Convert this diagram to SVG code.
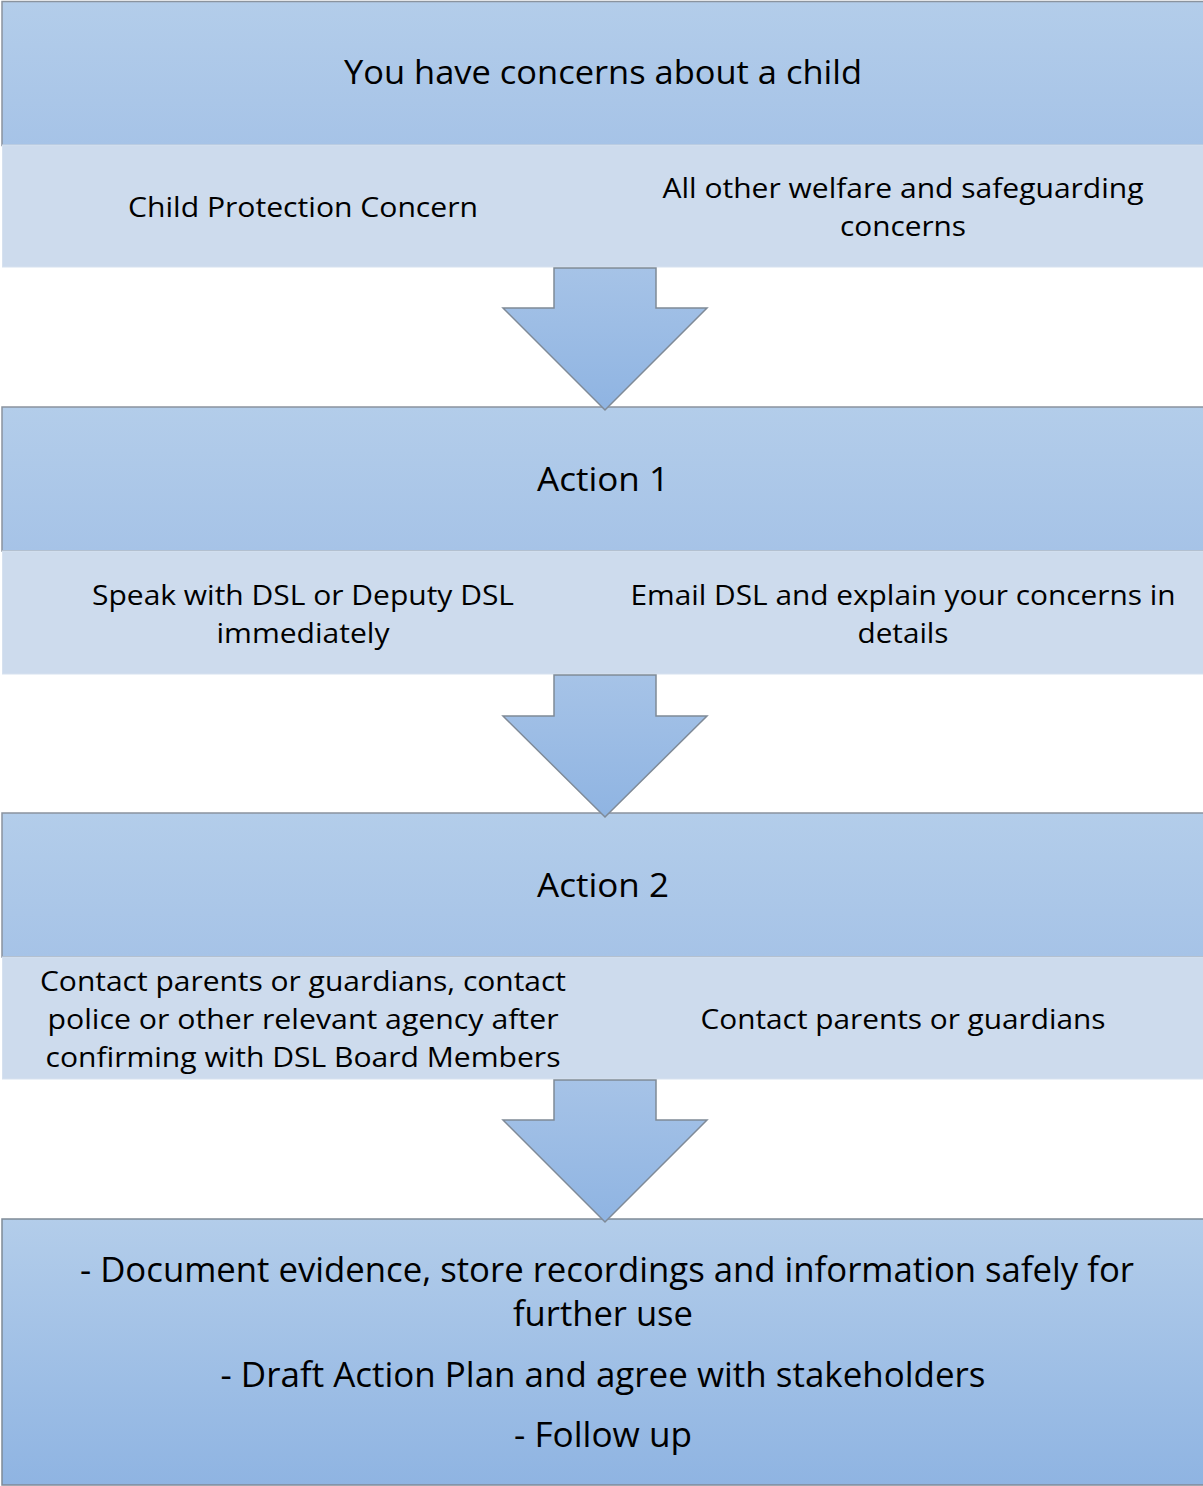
<svg xmlns="http://www.w3.org/2000/svg" width="1203" height="1486" viewBox="0 0 1203 1486">
<defs>
<linearGradient id="hdr" x1="0" y1="0" x2="0" y2="1">
<stop offset="0" stop-color="#b3cdea"/>
<stop offset="1" stop-color="#a6c3e7"/>
</linearGradient>
<linearGradient id="arw" x1="0" y1="0" x2="0" y2="1">
<stop offset="0" stop-color="#a6c3e7"/>
<stop offset="1" stop-color="#8fb4e2"/>
</linearGradient>
<linearGradient id="big" x1="0" y1="0" x2="0" y2="1">
<stop offset="0" stop-color="#b3cdea"/>
<stop offset="1" stop-color="#8fb4e2"/>
</linearGradient>
</defs>
<style>
.hdr{fill:url(#hdr);stroke:#8a939e;stroke-width:1.5}
.sub{fill:#cddbed;stroke:#d6e1ef;stroke-width:1}
.arrow{fill:url(#arw);stroke:#7f8a97;stroke-width:1.5}
.big{fill:url(#big);stroke:#7f8a97;stroke-width:1.5}
text{font-family:"Open Sans","Noto Sans","Liberation Sans",sans-serif;fill:#000;text-anchor:middle}
.t1{font-size:32px}
.t2{font-size:28px}
.t3{font-size:35px}
</style>
<g id="node1">
<rect class="hdr" x="2" y="1.5" width="1203" height="144"/>
<rect class="sub" x="2.5" y="145" width="1202" height="122"/>
<text class="t1" x="603" y="84" textLength="518" lengthAdjust="spacingAndGlyphs">You have concerns about a child</text>
<text class="t2" x="303" y="217" textLength="350" lengthAdjust="spacingAndGlyphs">Child Protection Concern</text>
<text class="t2" x="903" y="198" textLength="481" lengthAdjust="spacingAndGlyphs">All other welfare and safeguarding</text>
<text class="t2" x="903" y="236" textLength="126" lengthAdjust="spacingAndGlyphs">concerns</text>
</g>
<g id="node2">
<rect class="hdr" x="2" y="407" width="1203" height="144"/>
<rect class="sub" x="2.5" y="551" width="1202" height="123"/>
<text class="t1" x="603" y="491" textLength="132" lengthAdjust="spacingAndGlyphs">Action 1</text>
<text class="t2" x="303" y="605" textLength="422" lengthAdjust="spacingAndGlyphs">Speak with DSL or Deputy DSL</text>
<text class="t2" x="303" y="643" textLength="173" lengthAdjust="spacingAndGlyphs">immediately</text>
<text class="t2" x="903" y="605" textLength="545" lengthAdjust="spacingAndGlyphs">Email DSL and explain your concerns in</text>
<text class="t2" x="903" y="643" textLength="91" lengthAdjust="spacingAndGlyphs">details</text>
</g>
<g id="node3">
<rect class="hdr" x="2" y="813" width="1203" height="144"/>
<rect class="sub" x="2.5" y="957" width="1202" height="122"/>
<text class="t1" x="603" y="897" textLength="132" lengthAdjust="spacingAndGlyphs">Action 2</text>
<text class="t2" x="303" y="991" textLength="526" lengthAdjust="spacingAndGlyphs">Contact parents or guardians, contact</text>
<text class="t2" x="303" y="1029" textLength="511" lengthAdjust="spacingAndGlyphs">police or other relevant agency after</text>
<text class="t2" x="303" y="1067" textLength="515" lengthAdjust="spacingAndGlyphs">confirming with DSL Board Members</text>
<text class="t2" x="903" y="1029" textLength="405" lengthAdjust="spacingAndGlyphs">Contact parents or guardians</text>
</g>
<g id="node4">
<rect class="big" x="2" y="1219" width="1203" height="266"/>
<text class="t3" x="607" y="1282" textLength="1054" lengthAdjust="spacingAndGlyphs">- Document evidence, store recordings and information safely for</text>
<text class="t3" x="603" y="1326" textLength="180" lengthAdjust="spacingAndGlyphs">further use</text>
<text class="t3" x="603" y="1387" textLength="765" lengthAdjust="spacingAndGlyphs">- Draft Action Plan and agree with stakeholders</text>
<text class="t3" x="603" y="1447" textLength="178" lengthAdjust="spacingAndGlyphs">- Follow up</text>
</g>
<g id="connectors">
<path class="arrow" d="M554,268 L656,268 L656,308 L707,308 L605,410 L503,308 L554,308 Z"/>
<path class="arrow" d="M554,675 L656,675 L656,716 L707,716 L605,817 L503,716 L554,716 Z"/>
<path class="arrow" d="M554,1080 L656,1080 L656,1120 L707,1120 L605,1222 L503,1120 L554,1120 Z"/>
</g>
</svg>
